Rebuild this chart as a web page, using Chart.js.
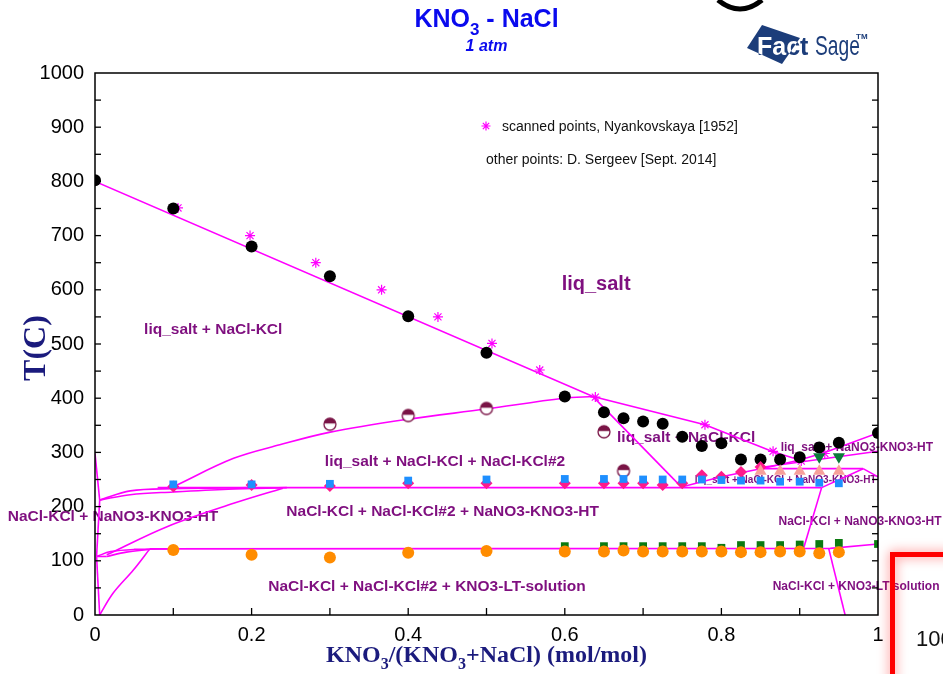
<!DOCTYPE html>
<html>
<head>
<meta charset="utf-8">
<script src="https://cdn.jsdelivr.net/npm/chart.js@4.4.1/dist/chart.umd.min.js"></script>
<style>
  html, body { margin: 0; padding: 0; background: #ffffff; }
  canvas { display: block; }
</style>
</head>
<body>
<canvas id="c" width="943" height="674" style="width:943px;height:674px"></canvas>
<script>
// ---------- measured points (x = KNO3 mole fraction, T in C) ----------
const liquidusX = [0, 0.1, 0.2, 0.3, 0.4, 0.5, 0.6, 0.65, 0.675, 0.7, 0.725, 0.75, 0.775, 0.8, 0.825, 0.85, 0.875, 0.9, 0.925, 0.95, 1.0];
const liquidusT = [802, 750, 680, 625, 551, 484, 403, 374, 363, 357, 353, 329, 312, 317, 287, 287, 287, 291, 309, 318, 336];

const scannedX = [0.106, 0.198, 0.282, 0.366, 0.438, 0.507, 0.568, 0.639, 0.779, 0.866, 0.902, 0.932];
const scannedT = [751, 700, 650, 600, 550, 501, 452, 402, 351, 302, 284, 298];

const solvusPtsX = [0.3, 0.4, 0.5, 0.65, 0.675];
const solvusPtsT = [352, 368, 381, 338, 266];

const blueSqX = [0.1, 0.2, 0.3, 0.4, 0.5, 0.6, 0.65, 0.675, 0.7, 0.725, 0.75, 0.775, 0.8, 0.825, 0.85, 0.875, 0.9, 0.925, 0.95];
const blueSqT = [241, 241, 242, 248, 250, 251, 251, 251, 250, 250, 250, 250, 249, 248, 248, 246, 246, 244, 243];

const pinkDiaX = [0.1, 0.2, 0.3, 0.4, 0.5, 0.6, 0.65, 0.675, 0.7, 0.725, 0.75, 0.775, 0.8, 0.825, 0.85];
const pinkDiaT = [237, 240, 238, 243, 243, 243, 243, 243, 243, 240, 243, 258, 255, 264, 273];

const salmonTriX = [0.85, 0.875, 0.9, 0.925, 0.95];
const salmonTriT = [265, 265, 265, 265, 265];

const greenTriX = [0.925, 0.95];
const greenTriT = [292, 292];

const orangeX = [0.1, 0.2, 0.3, 0.4, 0.5, 0.6, 0.65, 0.675, 0.7, 0.725, 0.75, 0.775, 0.8, 0.825, 0.85, 0.875, 0.9, 0.925, 0.95];
const orangeT = [120, 111, 106, 115, 118, 117, 117, 119, 117, 117, 117, 117, 117, 116, 116, 117, 117, 114, 116];

const greenSqX = [0.6, 0.65, 0.675, 0.7, 0.725, 0.75, 0.775, 0.8, 0.825, 0.85, 0.875, 0.9, 0.925, 0.95, 1.0];
const greenSqT = [127, 127, 127, 127, 127, 127, 127, 124, 129, 129, 129, 130, 131, 133, 131];

// ---------- calculated phase boundaries ----------
const liqNaClX = [0, 0.636, 0.779, 0.866, 0.900];
const liqNaClT = [800, 403, 351, 301, 286];
const liqNitrateX = [0.900, 0.932, 1.0];
const liqNitrateT = [286, 300, 336];
const steepX = [0.636, 0.749];
const steepT = [403, 236];
const solvusX = [0.102, 0.177, 0.236, 0.299, 0.399, 0.499, 0.598, 0.636];
const solvusT = [238, 289, 314, 337, 361, 380, 400, 403];
const line235X = [0.08, 0.928];
const line235T = [235, 235];
const curveAX = [0.006, 0.045, 0.1, 0.2];
const curveAT = [212, 229, 233, 235];
const curveBX = [0.006, 0.045, 0.1, 0.17, 0.245];
const curveBT = [212, 222, 227, 232, 235];
const spikeX = [0, 0.006];
const spikeT = [298, 212];
const edge1X = [0.006, 0.002];
const edge1T = [212, 108];
const curveCX = [0.002, 0.02, 0.05, 0.1];
const curveCT = [108, 117, 121, 122];
const shelfX = [0.002, 0.015];
const shelfT = [108, 108];
const curveDX = [0.015, 0.04, 0.07];
const curveDT = [108, 116, 121];
const curveEX = [0.015, 0.092, 0.177, 0.24];
const curveET = [111, 163, 206, 234];
const curveFX = [0.006, 0.023, 0.049, 0.07];
const curveFT = [0, 40, 83, 122];
const edge2X = [0.002, 0.006];
const edge2T = [108, 0];
const line120X = [0.07, 0.939, 1.0];
const line120T = [122, 123, 131];
const bPX = [0.749, 0.80, 0.858, 0.900];
const bPT = [236, 255, 272, 286];
const bQX = [0.849, 0.981];
const bQT = [270, 270];
const bRX = [0.85, 1.0];
const bRT = [272, 302];
const bSX = [0.981, 1.0];
const bST = [270, 255];
const bUX = [0.928, 0.981];
const bUT = [235, 270];
const bVX = [0.928, 0.905];
const bVT = [235, 123];
const bWX = [0.937, 0.958];
const bWT = [123, 0];

// [x, T, smooth]
const boundaries = [
  [liqNaClX, liqNaClT, 0], [liqNitrateX, liqNitrateT, 0], [steepX, steepT, 0],
  [solvusX, solvusT, 0.35], [line235X, line235T, 0], [curveAX, curveAT, 0.35],
  [curveBX, curveBT, 0.35], [spikeX, spikeT, 0], [edge1X, edge1T, 0],
  [curveCX, curveCT, 0.35], [shelfX, shelfT, 0], [curveDX, curveDT, 0.35],
  [curveEX, curveET, 0.35], [curveFX, curveFT, 0.35], [edge2X, edge2T, 0],
  [line120X, line120T, 0], [bPX, bPT, 0], [bQX, bQT, 0], [bRX, bRT, 0],
  [bSX, bST, 0], [bUX, bUT, 0], [bVX, bVT, 0], [bWX, bWT, 0]
];

// axis ticks
const xTicksShown = [0, 0.2, 0.4, 0.6, 0.8, 1];
const yTicksShown = [0, 100, 200, 300, 400, 500, 600, 700, 800, 900, 1000];

// phase field names: [text, x, T, font size]
const fieldLabels = [
  ['liq_salt', 0.640, 609, 20],
  ['liq_salt + NaCl-KCl', 0.151, 527, 15.5],
  ['liq_salt + NaCl-KCl + NaCl-KCl#2', 0.447, 282, 15.5],
  ['NaCl-KCl + NaCl-KCl#2 + NaNO3-KNO3-HT', 0.444, 190, 15.5],
  ['NaCl-KCl + NaNO3-KNO3-HT', 0.023, 181, 15.5],
  ['NaCl-KCl + NaCl-KCl#2 + KNO3-LT-solution', 0.424, 52, 15.5],
  ['liq_salt + NaCl-KCl', 0.755, 327, 15.5],
  ['liq_salt + NaNO3-KNO3-HT', 0.973, 308, 12],
  ['liq_salt + NaCl-KCl + NaNO3-KNO3-HT', 0.882, 249, 10],
  ['NaCl-KCl + NaNO3-KNO3-HT', 0.977, 172, 12],
  ['NaCl-KCl + KNO3-LT solution', 0.972, 52, 12]
];

const pairs = (xs, ts) => xs.map((x, i) => ({ x: x, y: ts[i] }));

// half-filled marker for the two-phase solvus points
function halfDisc(r) {
  const s = 2 * r + 4;
  const c = document.createElement('canvas');
  c.width = s; c.height = s;
  const g = c.getContext('2d');
  const m = s / 2;
  g.beginPath(); g.arc(m, m, r, 0, 2 * Math.PI); g.fillStyle = '#ffffff'; g.fill();
  g.save();
  g.beginPath(); g.rect(m - r - 1, m - r - 1, 2 * r + 2, r * 1.05); g.clip();
  g.beginPath(); g.arc(m, m, r, 0, 2 * Math.PI); g.fillStyle = '#7a1446'; g.fill();
  g.restore();
  g.beginPath(); g.arc(m, m, r, 0, 2 * Math.PI);
  g.strokeStyle = '#7a1446'; g.lineWidth = 1.3; g.stroke();
  return c;
}

const datasets = [];
boundaries.forEach(b => {
  datasets.push({
    data: pairs(b[0], b[1]), showLine: true, pointRadius: 0, borderColor: '#ff00ff',
    borderWidth: 1.6, tension: b[2], fill: false, order: 10
  });
});
function pts(xs, ts, style, color, r, extra) {
  datasets.push(Object.assign({
    data: pairs(xs, ts), showLine: false, pointStyle: style, pointRadius: r,
    backgroundColor: color, borderColor: color, borderWidth: 0, order: 0
  }, extra || {}));
}
pts(orangeX, orangeT, 'circle', '#ff8c00', 6);
pts(greenSqX, greenSqT, 'rect', '#0b7a10', 5.5);
pts(blueSqX, blueSqT, 'rect', '#1e8fff', 5.5);
pts(salmonTriX, salmonTriT, 'triangle', '#f7a09a', 7);
pts(greenTriX, greenTriT, 'triangle', '#0b7a3a', 7, { rotation: 180 });
pts(pinkDiaX, pinkDiaT, 'rectRot', '#ff1a8c', 6);
pts(solvusPtsX, solvusPtsT, halfDisc(6), '#7a1446', 6);
pts(liquidusX, liquidusT, 'circle', '#000000', 6);
pts(scannedX, scannedT, 'star', '#ff00ff', 5, { borderWidth: 1.2 });

const navy = '#1b1b7d';
const purple = '#7f0f7f';
const sans = '"Liberation Sans", Arial, sans-serif';
const serif = '"Liberation Serif", "Times New Roman", serif';

// text with subscripts: parts = [[text, isSub], ...]
function drawRich(ctx, parts, x, y, size, font, weight, color) {
  const main = weight + ' ' + size + 'px ' + font;
  const sub = weight + ' ' + Math.round(size * 0.66) + 'px ' + font;
  let w = 0;
  parts.forEach(p => { ctx.font = p[1] ? sub : main; w += ctx.measureText(p[0]).width; });
  let cx = x - w / 2;
  ctx.fillStyle = color; ctx.textAlign = 'left'; ctx.textBaseline = 'alphabetic';
  parts.forEach(p => {
    ctx.font = p[1] ? sub : main;
    ctx.fillText(p[0], cx, y + (p[1] ? size * 0.3 : 0));
    cx += ctx.measureText(p[0]).width;
  });
}

const decor = {
  id: 'decor',
  beforeDatasetsDraw(chart) {
    const ctx = chart.ctx, xs = chart.scales.x, ys = chart.scales.y;
    ctx.save();
    ctx.fillStyle = purple; ctx.textAlign = 'center'; ctx.textBaseline = 'middle';
    fieldLabels.forEach(l => {
      ctx.font = 'bold ' + l[3] + 'px ' + sans;
      ctx.fillText(l[0], xs.getPixelForValue(l[1]), ys.getPixelForValue(l[2]));
    });
    ctx.restore();
  },
  afterDraw(chart) {
    const ctx = chart.ctx, a = chart.chartArea, xs = chart.scales.x, ys = chart.scales.y;
    ctx.save();
    // frame
    ctx.strokeStyle = '#000'; ctx.lineWidth = 1.5;
    ctx.strokeRect(a.left, a.top, a.right - a.left, a.bottom - a.top);
    // inward tick marks
    ctx.lineWidth = 1.3;
    xs.ticks.forEach(t => {
      if (t.value <= 0 || t.value >= 1) return;
      const px = xs.getPixelForValue(t.value);
      ctx.beginPath(); ctx.moveTo(px, a.bottom); ctx.lineTo(px, a.bottom - 7); ctx.stroke();
    });
    ys.ticks.forEach(t => {
      if (t.value <= 0 || t.value >= 1000) return;
      const py = ys.getPixelForValue(t.value);
      ctx.beginPath(); ctx.moveTo(a.left, py); ctx.lineTo(a.left + 6, py); ctx.stroke();
      ctx.beginPath(); ctx.moveTo(a.right, py); ctx.lineTo(a.right - 6, py); ctx.stroke();
    });

    // title
    const cx = (a.left + a.right) / 2;
    drawRich(ctx, [['KNO', 0], ['3', 1], [' - NaCl', 0]], cx, 27, 25, sans, 'bold', '#0a0aee');
    ctx.font = 'italic bold 16px ' + sans; ctx.textAlign = 'center'; ctx.fillStyle = '#0a0aee';
    ctx.fillText('1 atm', cx, 51);

    // axis titles
    drawRich(ctx, [['KNO', 0], ['3', 1], ['/(KNO', 0], ['3', 1], ['+NaCl) (mol/mol)', 0]],
      cx, 662, 24, serif, 'bold', navy);
    ctx.save();
    ctx.translate(37, 348); ctx.rotate(-Math.PI / 2);
    ctx.font = 'bold 32px ' + serif; ctx.fillStyle = navy;
    ctx.textAlign = 'center'; ctx.textBaseline = 'middle';
    ctx.fillText('T(C)', 0, 0);
    ctx.restore();

    // source notes
    const sx = 486, sy = 126;
    ctx.strokeStyle = '#ff00ff'; ctx.lineWidth = 1.2;
    ctx.beginPath();
    for (let k = 0; k < 4; k++) {
      const ang = k * Math.PI / 4;
      ctx.moveTo(sx - 4.5 * Math.cos(ang), sy - 4.5 * Math.sin(ang));
      ctx.lineTo(sx + 4.5 * Math.cos(ang), sy + 4.5 * Math.sin(ang));
    }
    ctx.stroke();
    ctx.fillStyle = '#111'; ctx.font = '14px ' + sans;
    ctx.textAlign = 'left'; ctx.textBaseline = 'middle';
    ctx.fillText('scanned points, Nyankovskaya [1952]', 502, 127);
    ctx.fillText('other points: D. Sergeev [Sept. 2014]', 486, 160);

    // FactSage badge: tilted square, "Fact" white where it sits on the square
    const logo = '#1c3d7a';
    const badge = new Path2D();
    badge.moveTo(747, 48); badge.lineTo(762, 25); badge.lineTo(800, 38); badge.lineTo(782, 64);
    badge.closePath();
    ctx.fillStyle = logo; ctx.fill(badge);
    ctx.textBaseline = 'alphabetic'; ctx.textAlign = 'left';
    ctx.font = 'bold 25px ' + sans;
    ctx.fillText('Fact', 757, 55);
    ctx.save(); ctx.clip(badge); ctx.fillStyle = '#ffffff'; ctx.fillText('Fact', 757, 55); ctx.restore();
    ctx.fillStyle = logo;
    ctx.font = '24px "Liberation Sans Narrow", ' + sans;
    ctx.save(); ctx.translate(815, 55); ctx.scale(0.8, 1.12); ctx.fillText('Sage', 0, 0); ctx.restore();
    ctx.font = 'bold 8px ' + sans; ctx.fillText('TM', 856, 39);

    // overlapping page fragments
    ctx.strokeStyle = '#000'; ctx.lineWidth = 5;
    ctx.beginPath(); ctx.moveTo(718, 0); ctx.quadraticCurveTo(740, 18, 762, 0); ctx.stroke();

    ctx.save();
    ctx.shadowColor = 'rgba(255,0,0,0.55)'; ctx.shadowBlur = 12;
    ctx.strokeStyle = '#ff0000'; ctx.lineWidth = 5;
    ctx.strokeRect(892.5, 554.5, 200, 200);
    ctx.restore();
    ctx.fillStyle = '#111'; ctx.font = '22px ' + sans; ctx.textAlign = 'left'; ctx.textBaseline = 'middle';
    ctx.fillText('100', 916, 640);
    ctx.restore();
  }
};

new Chart(document.getElementById('c'), {
  type: 'scatter',
  data: { datasets: datasets },
  options: {
    responsive: false, animation: false, devicePixelRatio: 1,
    layout: { padding: { top: 73, right: 65, left: 0, bottom: 0 } },
    plugins: { legend: { display: false }, tooltip: { enabled: false }, title: { display: false } },
    scales: {
      x: {
        type: 'linear', min: 0, max: 1,
        grid: { display: false, drawTicks: false }, border: { display: false },
        ticks: {
          stepSize: 0.1, autoSkip: false, maxRotation: 0, padding: 8, color: '#000',
          font: { family: sans, size: 20 },
          callback: v => xTicksShown.some(t => Math.abs(t - v) < 1e-6) ? (v === 0 ? '0' : (Math.abs(v - 1) < 1e-6 ? '1' : v.toFixed(1))) : ''
        },
        afterFit: s => { s.height = 59; }
      },
      y: {
        type: 'linear', min: 0, max: 1000,
        grid: { display: false, drawTicks: false }, border: { display: false },
        ticks: {
          stepSize: 50, autoSkip: false, padding: 11, color: '#000',
          font: { family: sans, size: 20 },
          callback: v => yTicksShown.includes(v) ? String(v) : ''
        },
        afterFit: s => { s.width = 95; }
      }
    }
  },
  plugins: [decor]
});
</script>
</body>
</html>
